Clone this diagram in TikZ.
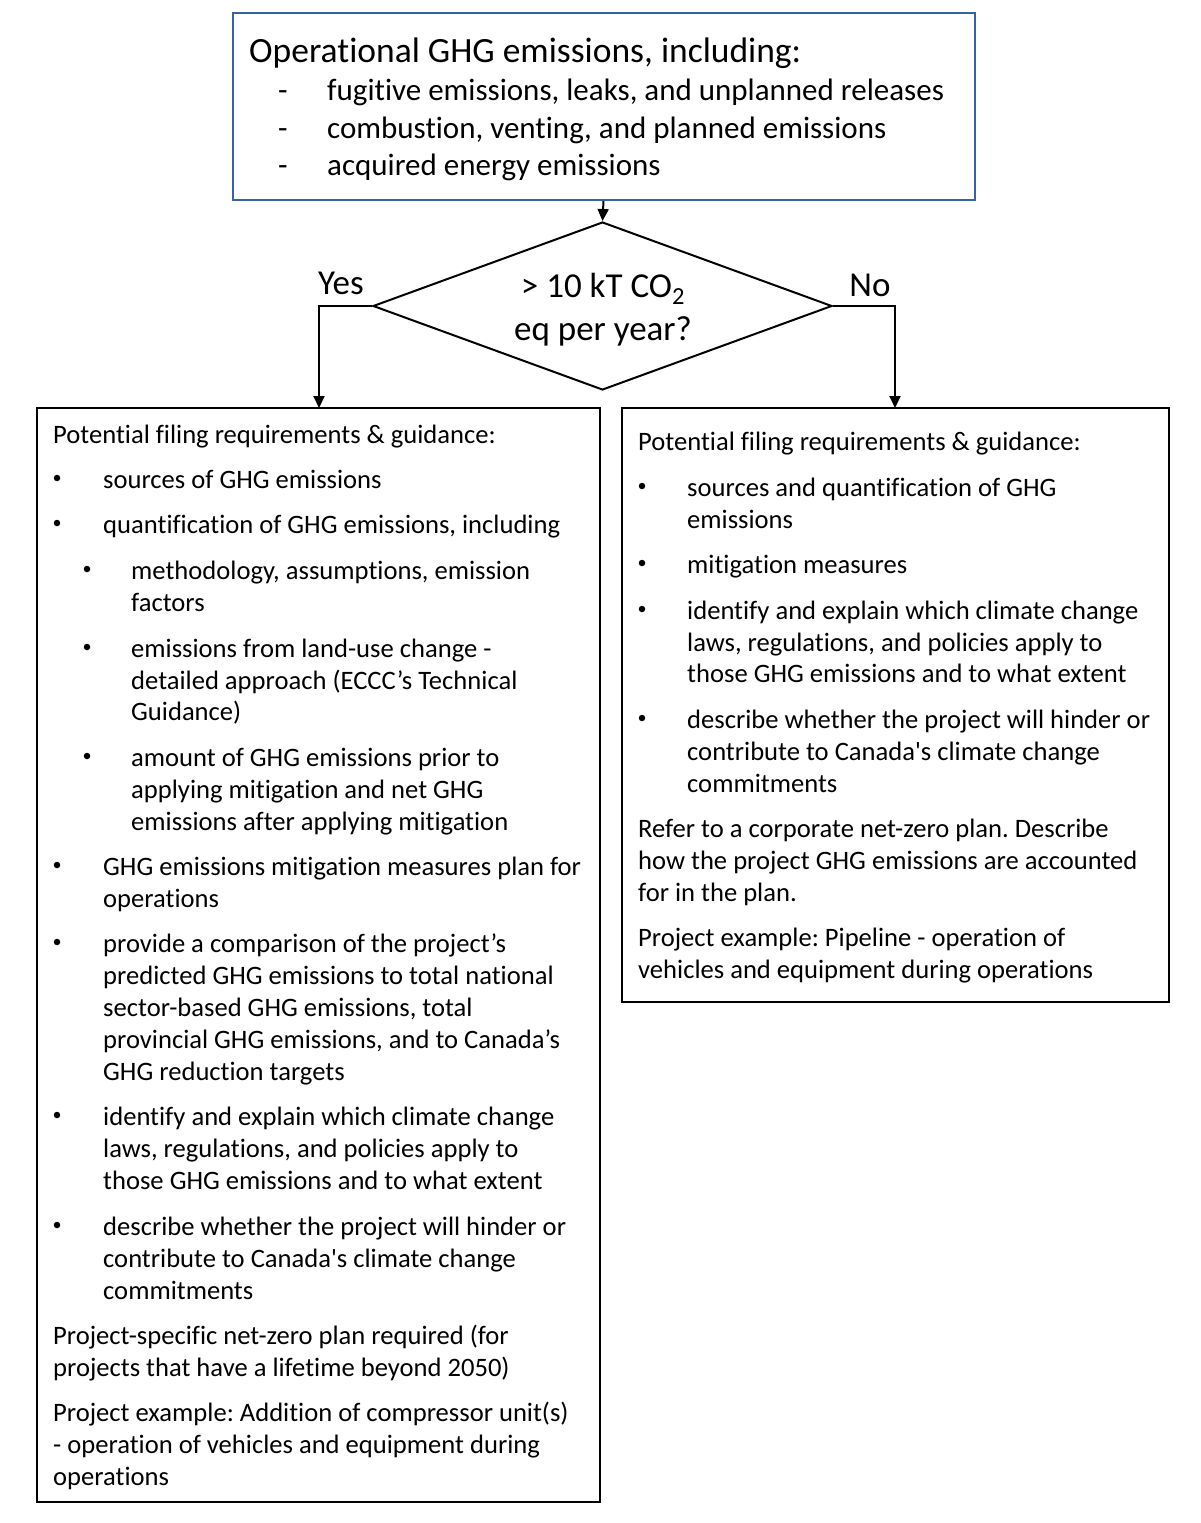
\documentclass[tikz,border=0pt]{standalone}
\usepackage{fontspec}
\setmainfont{Carlito}[Ligatures={TeX,NoCommon}]
\usetikzlibrary{arrows.meta,shapes.geometric}
\definecolor{topblue}{HTML}{3562A9}
\newcommand\mytxt[4]{\node[txt] (#1) at (#2,#3) {#4};}
\newcommand\mybul[3]{\node[bul] (#1) at (#2,#3-10) {};}
\frenchspacing
\begin{document}
\begin{tikzpicture}[x=1pt,y=-1pt,
  txt/.style={anchor=base west,inner sep=0pt,font=\fontsize{26.6}{32}\selectfont},
  bul/.style={circle,fill=black,inner sep=0pt,minimum size=6.5pt},
  toptxt/.style={anchor=base west,inner sep=0pt,font=\fontsize{31}{38}\selectfont},
  bigtxt/.style={anchor=base,inner sep=0pt,font=\fontsize{35}{42}\selectfont},
  boxline/.style={draw=black,line width=2pt},
  arr/.style={line width=2pt,-{Triangle[length=12pt,width=11pt]}}]
\useasboundingbox (0,0) rectangle (1200,1523);
\fill[white] (0,0) rectangle (1200,1523);
% boxes
\node[draw=topblue,line width=2pt,minimum width=742pt,minimum height=187pt,inner sep=0pt] (top) at (603.5,106.5) {};
\node[draw,line width=2pt,diamond,minimum width=459pt,minimum height=168pt,aspect=2.73,inner sep=0pt] (q) at (602.5,306) {};
\node[boxline,minimum width=563pt,minimum height=1094pt,inner sep=0pt] (L) at (318.5,955) {};
\node[boxline,minimum width=547pt,minimum height=594pt,inner sep=0pt] (R) at (895.5,705) {};
% top text
\node[anchor=base west,inner sep=0pt,font=\fontsize{35.5}{42}\selectfont] (t0) at (249,62) {Operational GHG emissions, including:};
\node[toptxt] (d1) at (278,100) {-};
\node[toptxt] (d2) at (278,138) {-};
\node[toptxt] (d3) at (278,175) {-};
\node[toptxt] (t1) at (327,100) {fugitive emissions, leaks, and unplanned releases};
\node[toptxt] (t2) at (327,138) {combustion, venting, and planned emissions};
\node[toptxt] (t3) at (327,175) {acquired energy emissions};
% diamond text
\node[bigtxt] (q1) at (603,297) {> 10 kT CO\textsubscript{2}};
\node[bigtxt] (q2) at (603,340) {eq per year?};
\node[bigtxt] (yes) at (341,294) {Yes};
\node[bigtxt] (no) at (870,296) {No};
% connectors
\coordinate (ya) at (319,408);
\coordinate (na) at (895,408);
\draw[arr] (top.south) -- (q.north);
\draw[arr] (q.west) -| (ya);
\draw[arr] (q.east) -| (na);
% left box text
\mytxt{a0}{53}{443}{Potential filing requirements \& guidance:}
\mybul{ab1}{57}{488}
\mytxt{a1}{103}{488}{sources of GHG emissions}
\mybul{ab2}{57}{533}
\mytxt{a2}{103}{533}{quantification of GHG emissions, including}
\mybul{ab3}{87}{579}
\mytxt{a3a}{131}{579}{methodology, assumptions, emission}
\mytxt{a3b}{131}{611}{factors}
\mybul{ab4}{87}{657}
\mytxt{a4a}{131}{657}{emissions from land-use change -}
\mytxt{a4b}{131}{689}{detailed approach (ECCC’s Technical}
\mytxt{a4c}{131}{720}{Guidance)}
\mybul{ab5}{87}{766}
\mytxt{a5a}{131}{766}{amount of GHG emissions prior to}
\mytxt{a5b}{131}{798}{applying mitigation and net GHG}
\mytxt{a5c}{131}{830}{emissions after applying mitigation}
\mybul{ab6}{57}{875}
\mytxt{a6a}{103}{875}{GHG emissions mitigation measures plan for}
\mytxt{a6b}{103}{907}{operations}
\mybul{ab7}{57}{952}
\mytxt{a7a}{103}{952}{provide a comparison of the project’s}
\mytxt{a7b}{103}{984}{predicted GHG emissions to total national}
\mytxt{a7c}{103}{1016}{sector-based GHG emissions, total}
\mytxt{a7d}{103}{1048}{provincial GHG emissions, and to Canada’s}
\mytxt{a7e}{103}{1080}{GHG reduction targets}
\mybul{ab8}{57}{1125}
\mytxt{a8a}{103}{1125}{identify and explain which climate change}
\mytxt{a8b}{103}{1157}{laws, regulations, and policies apply to}
\mytxt{a8c}{103}{1189}{those GHG emissions and to what extent}
\mybul{ab9}{57}{1235}
\mytxt{a9a}{103}{1235}{describe whether the project will hinder or}
\mytxt{a9b}{103}{1267}{contribute to Canada\textquotesingle s climate change}
\mytxt{a9c}{103}{1299}{commitments}
\mytxt{a10a}{53}{1344}{Project-specific net-zero plan required (for}
\mytxt{a10b}{53}{1376}{projects that have a lifetime beyond 2050)}
\mytxt{a11a}{53}{1421}{Project example: Addition of compressor unit(s)}
\mytxt{a11b}{53}{1453}{- operation of vehicles and equipment during}
\mytxt{a11c}{53}{1485}{operations}
% right box text
\mytxt{b0}{638}{450}{Potential filing requirements \& guidance:}
\mybul{bb1}{642}{496}
\mytxt{b1a}{687}{496}{sources and quantification of GHG}
\mytxt{b1b}{687}{528}{emissions}
\mybul{bb2}{642}{573}
\mytxt{b2}{687}{573}{mitigation measures}
\mybul{bb3}{642}{619}
\mytxt{b3a}{687}{619}{identify and explain which climate change}
\mytxt{b3b}{687}{651}{laws, regulations, and policies apply to}
\mytxt{b3c}{687}{682}{those GHG emissions and to what extent}
\mybul{bb4}{642}{728}
\mytxt{b4a}{687}{728}{describe whether the project will hinder or}
\mytxt{b4b}{687}{760}{contribute to Canada\textquotesingle s climate change}
\mytxt{b4c}{687}{792}{commitments}
\mytxt{b5a}{638}{837}{Refer to a corporate net-zero plan. Describe}
\mytxt{b5b}{638}{869}{how the project GHG emissions are accounted}
\mytxt{b5c}{638}{901}{for in the plan.}
\mytxt{b6a}{638}{946}{Project example: Pipeline - operation of}
\mytxt{b6b}{638}{978}{vehicles and equipment during operations}
\end{tikzpicture}
\end{document}
